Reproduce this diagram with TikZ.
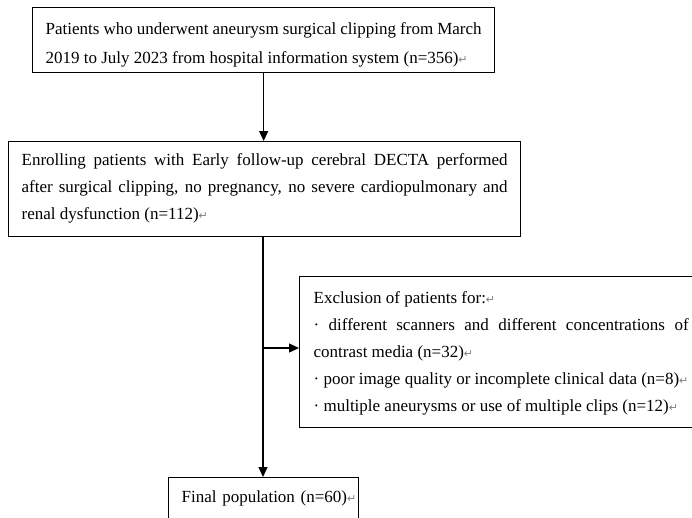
\documentclass[tikz,border=0pt]{standalone}
\usepackage{fontspec}
\setmainfont{Liberation Serif}
\newfontfamily\markfont{DejaVu Sans}
\usetikzlibrary{arrows.meta}

\newcommand{\parmark}{\rlap{\markfont\fontsize{11}{11}\selectfont\color{gray}↵}}
\newcommand{\topstrut}[1]{\rule{0pt}{#1pt}}
\newcommand{\botstrut}[1]{\rule[-#1pt]{0pt}{#1pt}}

\tikzset{
    flow box/.style={draw, line width=1.3pt, inner xsep=13pt, inner ysep=0pt,
        anchor=north west, align=justify, font=\fontsize{17}{27}\selectfont},
    flow arrow/.style={line width=1.3pt, -{Triangle[length=10pt,width=9pt]}}
    }

\begin{document}
\begin{tikzpicture}[x=1pt,y=-1pt]
    \useasboundingbox (0,0) rectangle (692,517);
    \clip (0,0) rectangle (692,517);
    % The boxes
    \node(source)[flow box, text width=436pt, font=\fontsize{17}{29}\selectfont] at (32,7)
        {\topstrut{27}Patients who underwent aneurysm surgical clipping from March\linebreak
        2019 to July 2023 from hospital information system (n=356)\parmark\botstrut{9}};
    \node(enrolled)[flow box, text width=486pt] at (8,141)
        {\topstrut{24}Enrolling patients with Early follow-up cerebral DECTA performed\linebreak
        after surgical clipping, no pregnancy, no severe cardiopulmonary and\linebreak
        renal dysfunction (n=112)\parmark\botstrut{17}};
    \node(excluded)[flow box, text width=375pt, inner xsep=14pt] at (299,276)
        {\topstrut{27}Exclusion of patients for:\parmark\\
        · different scanners and different concentrations of\linebreak
        contrast media (n=32)\parmark\\
        · poor image quality or incomplete clinical data (n=8)\parmark\\
        · multiple aneurysms or use of multiple clips (n=12)\parmark\botstrut{16}};
    \node(final)[flow box, text width=164pt, align=left] at (168,477)
        {\topstrut{25}\mbox{Final population (n=60)}\parmark\botstrut{30}};
    % The arrows
    \coordinate(split) at (263,348);
    \draw[flow arrow] (source.south) -- (source.south |- enrolled.north);
    \draw[flow arrow] (enrolled.south -| split) -- (split |- final.north);
    \draw[flow arrow] (split) -- (split -| excluded.west);
\end{tikzpicture}
\end{document}
